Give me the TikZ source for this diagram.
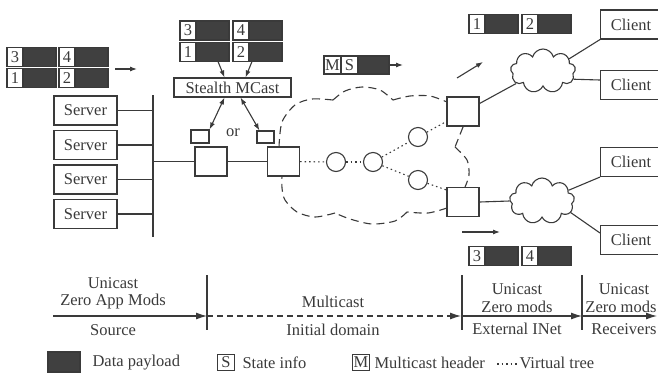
\documentclass[tikz,border=0pt]{standalone}
\usepackage{fontspec}
\setmainfont{Liberation Serif}
\usetikzlibrary{arrows.meta,shapes.symbols,calc}
\definecolor{ink}{HTML}{3A3A3A}
\definecolor{payc}{HTML}{404040}
\newcommand{\figfont}{\fontsize{16.5}{18}\selectfont}
\newcommand{\pkt}[4]{\node[lbl] (#1l) at (#2,#3) {#4}; \node[pay] (#1d) at (#1l.east) {};}
\begin{document}
\begin{tikzpicture}[x=1pt,y=-1pt,line width=1.1pt,color=ink,
  lbl/.style={draw,minimum width=16,minimum height=19,inner sep=0,outer sep=0,anchor=west,font=\figfont},
  pay/.style={draw,fill=payc,minimum width=33,minimum height=19,inner sep=0,outer sep=0,anchor=west},
  srv/.style={draw,minimum width=63,minimum height=29,inner sep=0,font=\figfont},
  cli/.style={draw,minimum width=61,minimum height=29,inner sep=0,anchor=west,font=\figfont},
  rt/.style={draw,minimum width=32,minimum height=29,inner sep=0},
  sm/.style={draw,inner sep=0},
  cir/.style={draw,circle,minimum size=19,inner sep=0},
  cl/.style={draw,cloud,cloud puffs=9,cloud ignores aspect,minimum width=65,minimum height=44,inner sep=0},
  txt/.style={font=\figfont,inner sep=0},
  vt/.style={dash pattern=on 1.5pt off 3pt},
  cloudline/.style={dash pattern=on 8pt off 5pt},
  arr/.style={-{Latex[length=7pt,width=5pt]}},
  tarr/.style={-{Latex[length=11pt,width=7pt]}}]
\useasboundingbox (0,0) rectangle (658,373);
\clip (0,0) rectangle (658,373);

% packets top-left
\pkt{a1}{7}{57}{3}
\pkt{a2}{59}{57}{4}
\pkt{a3}{7}{78}{1}
\pkt{a4}{59}{78}{2}
\coordinate (aa1) at (115,69);
\coordinate (aa2) at (137,69);
\draw[arr] (aa1) -- (aa2);

% servers and bus
\node[srv] (S1) at (85.5,110.5) {Server};
\node[srv] (S2) at (85.5,145) {Server};
\node[srv] (S3) at (85.5,179.5) {Server};
\node[srv] (S4) at (85.5,214) {Server};
\coordinate (bt) at (153,95);
\coordinate (bb) at (153,237);
\draw (bt) -- (bb);
\foreach \s in {S1,S2,S3,S4} \draw (\s.east) -- (\s.east -| bt);

% routers
\node[rt] (R1) at (211,161.5) {};
\node[rt] (R2) at (283.5,161.5) {};
\node[rt] (R3) at (463,111.5) {};
\node[rt] (R4) at (463,202) {};
\draw (R1.west -| bt) -- (R1.west);
\draw (R1) -- (R2);

% stealth mcast
\pkt{b1}{180}{30.5}{3}
\pkt{b2}{233}{30.5}{4}
\pkt{b3}{180}{52}{1}
\pkt{b4}{233}{52}{2}
\node[draw,minimum width=117,minimum height=19,inner sep=0,font=\figfont] (st) at (232.5,87.5) {Stealth MCast};
\draw[arr] ([xshift=5.5pt]b3d.south) -- ([xshift=-8pt]st.north);
\draw[arr] ([xshift=3pt]b4l.south east) -- ([xshift=13pt]st.north);
\node[sm,minimum width=18,minimum height=13] (sL) at (200,136.5) {};
\node[sm,minimum width=17,minimum height=12] (sR) at (265.5,137) {};
\node[txt] (or) at (233,133) {or};
\draw[{Latex[length=7pt,width=5pt]}-{Latex[length=7pt,width=5pt]}] ([xshift=-8pt]st.south) -- (sL.north east);
\draw[{Latex[length=7pt,width=5pt]}-{Latex[length=7pt,width=5pt]}] ([xshift=8pt]st.south) -- ([xshift=3pt]sR.north west);

% MS packet
\node[lbl,minimum width=17,minimum height=18] (mM) at (324,65) {M};
\node[lbl,minimum width=17,minimum height=18] (mS) at (mM.east) {S};
\node[pay,minimum width=31,minimum height=18] (mD) at (mS.east) {};
\coordinate (ma) at (403,65);
\draw[arr] (mD.east) -- (ma);

% big dashed cloud
\draw[cloudline] plot[smooth] coordinates {(279,147) (282,122) (295,105) (312,99) (333,100)};
\draw[cloudline] plot[smooth] coordinates {(333,100) (345,91) (362,87) (380,90) (393,100)};
\draw[cloudline] plot[smooth] coordinates {(393,100) (410,96) (430,96) (447,102)};
\draw[cloudline] plot[smooth] coordinates {(463,127) (455,147)};
\draw[cloudline] plot[smooth] coordinates {(455,147) (467,160) (469,175) (465,187)};
\draw[cloudline] plot[smooth] coordinates {(447,208) (428,213) (407,212)};
\draw[cloudline] plot[smooth] coordinates {(407,212) (395,221) (372,224) (350,219) (335,213)};
\draw[cloudline] plot[smooth] coordinates {(335,213) (315,217) (297,212) (285,200) (282,188) (282,176)};

% virtual tree
\node[cir] (c1) at (336,162) {};
\node[cir] (c2) at (373,162) {};
\node[cir] (c3) at (418,137) {};
\node[cir] (c4) at (418,180) {};
\draw[vt] (R2) -- (c1);
\draw[vt] (c1) -- (c2);
\draw[vt] (c2) -- (c3);
\draw[vt] (c2) -- (c4);
\draw[vt] (c3) -- ([yshift=-10pt]R3.west);
\draw[vt] (c4) -- ([yshift=12pt]R4.west);

% right side
\node[cl] (uc) at (543,71) {};
\node[cl,minimum height=46] (lc) at (542,201) {};
\node[cli] (C1) at (600,24.5) {Client};
\node[cli] (C2) at (600,85) {Client};
\node[cli] (C3) at (600,162) {Client};
\node[cli] (C4) at (600,240) {Client};
\draw ([yshift=8pt]R3.east) -- (uc.205);
\draw (uc.25) -- (C1.south west);
\draw (uc.-15) -- ([yshift=5pt]C2.west);
\draw (R4.east) -- (lc.west);
\draw (lc.22) -- (C3.south west);
\draw (lc.-22) -- ([yshift=7pt]C4.west);

\coordinate (ra1) at (457,78);
\coordinate (ra2) at (483,62);
\draw[arr] (ra1) -- (ra2);
\coordinate (rb1) at (462,232);
\coordinate (rb2) at (500,232);
\draw[arr] (rb1) -- (rb2);

\pkt{d1}{469}{24}{1}
\pkt{d2}{522}{24}{2}
\pkt{e1}{469}{256}{3}
\pkt{e2}{522}{256}{4}

% timeline
\coordinate (t0) at (53,316);
\coordinate (t1) at (207,316);
\coordinate (t2) at (462,316);
\coordinate (t3) at (582,316);
\coordinate (t4) at (657,316);
\draw[tarr] (t0) -- (t1);
\draw[tarr,dash pattern=on 6pt off 4pt] (t1) -- ([xshift=-1pt]t2);
\draw[tarr] (t2) -- (t3);
\draw[tarr] (t3) -- (t4);
\foreach \t in {t1,t2,t3} \draw ([yshift=41pt]\t) -- ([yshift=-14pt]\t);

\node[txt] (u1) at (113,283) {Unicast};
\node[txt] (z1) at (113,302) {Zero App Mods};
\node[txt] (s1) at (113,330) {Source};
\node[txt] (mc) at (333,302) {Multicast};
\node[txt] (id) at (333,330) {Initial domain};
\node[txt] (u2) at (517,289) {Unicast};
\node[txt] (z2) at (517,307) {Zero mods};
\node[txt] (en) at (517,329) {External INet};
\node[txt] (u3) at (624,289) {Unicast};
\node[txt,anchor=east] (z3) at (657,307) {Zero mods};
\node[txt,anchor=east] (rc) at (657,329) {Receivers};

% legend
\node[draw,fill=payc,minimum width=32,minimum height=20,inner sep=0] (lgD) at (64,362) {};
\node[txt,anchor=west] (lgDt) at (92,363) {Data payload};
\node[draw,minimum width=17,minimum height=16,inner sep=0,font=\figfont] (lgS) at (226,362.5) {S};
\node[txt,anchor=west] (lgSt) at (242,363) {State info};
\node[draw,minimum width=17,minimum height=16,inner sep=0,font=\figfont] (lgM) at (361,362.5) {M};
\node[txt,anchor=west] (lgMt) at (374,363) {Multicast header};
\coordinate (v1) at (497,364);
\coordinate (v2) at (517,364);
\draw[vt] (v1) -- (v2);
\node[txt,anchor=west] (lgVt) at (519,363) {Virtual tree};
\end{tikzpicture}
\end{document}
